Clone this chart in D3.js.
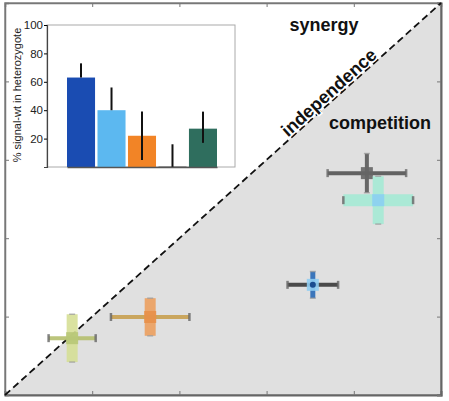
<!DOCTYPE html>
<html><head><meta charset="utf-8">
<script src="https://cdn.jsdelivr.net/npm/d3@7"></script>
<style>body{margin:0;background:#fff}svg{display:block;font-family:"Liberation Sans",Arial,sans-serif}</style>
</head><body><svg id="c" width="449" height="401"></svg>
<script>
// main scatter (x = single effect, y = combined effect; normalized units)
const pointNames = ["p1","p2","p3","p4","p5"];
const pointX     = [0.154, 0.333, 0.706, 0.830, 0.856];
const pointY     = [0.145, 0.199, 0.281, 0.566, 0.497];
const pointXErr  = [0.054, 0.090, 0.058, 0.090, 0.080];
const pointYErr  = [0.061, 0.048, 0.034, 0.050, 0.061];
const pointColor = ["#d6df96","#eda060","#2a6bb8","#5a5a5a","#a6ead6"];
const pointHColor= ["#b5bf6e","#c8a050","#3a3a3a","#555555","#a6ead6"];
const pointCenter= ["#b8c878","#e8904a","#90cdf2","#666666","#8ccff2"];

// inset bars
const barCats   = ["a","b","c","d","e"];
const barValues = [63, 40, 22, 0.5, 27];
const barLow    = [63, 40, 5, 0, 17];
const barHigh   = [73, 56, 39, 16, 39];
const barColors = ["#1a4cb2","#5cb8f0","#f28426","#888888","#2f6e5e"];
const insetTicks = [20,40,60,80,100];
const mainTicks = [0,0.2,0.4,0.6,0.8,1];

const svg = d3.select("#c");
const L=5,R=441,T=3,B=395;
const x = d3.scaleLinear().domain([0,1]).range([L,R]);
const y = d3.scaleLinear().domain([0,1]).range([B,T]);

// lower triangle (competition)
svg.append("path")
  .attr("d", d3.line()([[x(0),y(0)],[x(1),y(1)],[x(1),y(0)]]) + "Z")
  .attr("fill","#e0e0e0");

// frame
svg.append("rect").attr("x",L).attr("y",T).attr("width",R-L).attr("height",B-T)
  .attr("fill","none").attr("stroke","#8a8a8a").attr("stroke-width",1.5);
// axes ticks (no labels)
svg.append("g").attr("transform",`translate(0,${B})`)
  .call(d3.axisBottom(x).tickValues(mainTicks).tickSize(-4).tickFormat(""))
  .call(g=>{g.select(".domain").attr("stroke","#666").attr("stroke-width",2);g.selectAll("line").attr("stroke","#777");});
svg.append("g").attr("transform",`translate(0,${T})`)
  .call(d3.axisTop(x).tickValues(mainTicks).tickSize(-4).tickFormat(""))
  .call(g=>{g.select(".domain").attr("stroke","#777").attr("stroke-width",1.5);g.selectAll("line").attr("stroke","#777");});
svg.append("g").attr("transform",`translate(${L},0)`)
  .call(d3.axisLeft(y).tickValues(mainTicks).tickSize(-4).tickFormat(""))
  .call(g=>{g.select(".domain").attr("stroke","#777").attr("stroke-width",1.5);g.selectAll("line").attr("stroke","#777");});
svg.append("g").attr("transform",`translate(${R},0)`)
  .call(d3.axisRight(y).tickValues(mainTicks).tickSize(-4).tickFormat(""))
  .call(g=>{g.select(".domain").attr("stroke","#666").attr("stroke-width",2);g.selectAll("line").attr("stroke","#777");});

// diagonal
svg.append("line").attr("x1",x(0)).attr("y1",y(0)).attr("x2",x(1)).attr("y2",y(1))
  .attr("stroke","#111").attr("stroke-width",1.8).attr("stroke-dasharray","7,4");

// labels
const ang = -Math.atan((B-T)/(R-L))*180/Math.PI;
svg.append("text").attr("x",324).attr("y",31).attr("text-anchor","middle")
  .attr("font-size",18).attr("font-weight","bold").attr("fill","#111").text("synergy");
svg.append("text").attr("x",380).attr("y",129).attr("text-anchor","middle")
  .attr("font-size",18).attr("font-weight","bold").attr("fill","#111").text("competition");
svg.append("text").attr("transform",`translate(333,97) rotate(${ang})`).attr("text-anchor","middle")
  .attr("font-size",18).attr("font-weight","bold").attr("fill","#111")
  .attr("stroke","#fff").attr("stroke-width",3).attr("paint-order","stroke").text("independence");

// points
const pts = pointNames.map((n,i)=>({n,x:pointX[i],y:pointY[i],xe:pointXErr[i],ye:pointYErr[i],c:pointColor[i],h:pointHColor[i],m:pointCenter[i]}));
const pg = svg.append("g").selectAll("g").data(pts).join("g");
// vertical band
pg.append("line").attr("x1",d=>x(d.x)).attr("x2",d=>x(d.x))
  .attr("y1",d=>y(d.y-d.ye)).attr("y2",d=>y(d.y+d.ye))
  .attr("stroke",d=>d.c).attr("stroke-width",d=>d.n==="p3"?5:(d.n==="p4"?4:11)).attr("opacity",0.9);
// horizontal band
pg.append("line").attr("y1",d=>y(d.y)).attr("y2",d=>y(d.y))
  .attr("x1",d=>x(d.x-d.xe)).attr("x2",d=>x(d.x+d.xe))
  .attr("stroke",d=>d.h).attr("stroke-width",d=>d.n==="p5"?12:4).attr("opacity",0.9);
// caps
pg.each(function(d){
  const g=d3.select(this);
  [[x(d.x-d.xe),y(d.y)],[x(d.x+d.xe),y(d.y)]].forEach(([cx,cy])=>{
    g.append("line").attr("x1",cx).attr("x2",cx).attr("y1",cy-4).attr("y2",cy+4)
     .attr("stroke","#666").attr("stroke-width",2.5).attr("opacity",0.8);
  });
  [[x(d.x),y(d.y-d.ye)],[x(d.x),y(d.y+d.ye)]].forEach(([cx,cy])=>{
    g.append("line").attr("x1",cx-3).attr("x2",cx+3).attr("y1",cy).attr("y2",cy)
     .attr("stroke","#999").attr("stroke-width",1.5).attr("opacity",0.7);
  });
});
// center marker
pg.append("rect").attr("x",d=>x(d.x)-6).attr("y",d=>y(d.y)-6).attr("width",12).attr("height",12)
  .attr("fill",d=>d.m).attr("opacity",0.9);
pg.filter(d=>d.n==="p3").append("circle").attr("cx",d=>x(d.x)).attr("cy",d=>y(d.y)).attr("r",3).attr("fill","#1a4c90");

// inset
const iL=47,iR=235,iT=25,iB=167;
svg.append("rect").attr("x",iL).attr("y",iT).attr("width",iR-iL).attr("height",iB-iT)
  .attr("fill","#fff").attr("stroke","#aaa").attr("stroke-width",1);
const bx = d3.scaleBand().domain(barCats).range([67,217]).paddingInner(0.08);
const by = d3.scaleLinear().domain([0,100]).range([iB,iT]);
svg.append("g").selectAll("rect").data(barCats).join("rect")
  .attr("x",d=>bx(d)).attr("width",bx.bandwidth())
  .attr("y",(d,i)=>by(barValues[i])).attr("height",(d,i)=>iB-by(barValues[i]))
  .attr("fill",(d,i)=>barColors[i]);
svg.append("g").selectAll("line").data(barCats).join("line")
  .attr("x1",d=>bx(d)+bx.bandwidth()/2).attr("x2",d=>bx(d)+bx.bandwidth()/2)
  .attr("y1",(d,i)=>by(barLow[i])).attr("y2",(d,i)=>by(barHigh[i]))
  .attr("stroke","#111").attr("stroke-width",2);
svg.append("g").attr("transform",`translate(0,${iB})`)
  .call(d3.axisBottom(bx).tickSize(0).tickFormat(""))
  .call(g=>g.select(".domain").attr("stroke","#555").attr("stroke-width",1.5));
svg.append("g").attr("transform",`translate(${iL},0)`)
  .call(d3.axisLeft(by).tickValues(insetTicks).tickSize(3).tickPadding(1))
  .call(g=>{g.select(".domain").attr("stroke","#444").attr("stroke-width",1.2);
    g.selectAll("text").attr("font-size",11.5).attr("fill","#222").attr("font-family","Liberation Sans, Arial, sans-serif");});
svg.append("text").attr("transform",`translate(21,95) rotate(-90)`).attr("text-anchor","middle")
  .attr("font-size",11).attr("fill","#222").text("% signal-wt in heterozygote");
</script></body></html>
